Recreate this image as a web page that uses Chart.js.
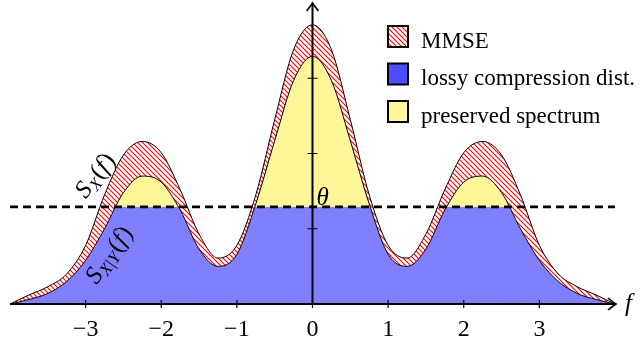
<!DOCTYPE html>
<html>
<head>
<meta charset="utf-8">
<script src="https://cdn.jsdelivr.net/npm/chart.js@4.4.1/dist/chart.umd.min.js"></script>
<style>
  html, body { margin: 0; padding: 0; background: #fff; }
  canvas { display: block; }
</style>
</head>
<body>
<canvas id="spec" width="642" height="343"></canvas>
<script>
// frequency grid and the two spectral densities sampled on it
var freqs = [-4, -3.75, -3.5, -3.25, -3, -2.75, -2.5, -2.25, -2, -1.75, -1.5, -1.25, -1, -0.75, -0.5, -0.25,
             0, 0.25, 0.5, 0.75, 1, 1.25, 1.5, 1.75, 2, 2.25, 2.5, 2.75, 3, 3.25, 3.5, 3.75, 4];
var sxVals = [0, 0.12, 0.23, 0.40, 0.78, 1.45, 1.98, 2.16, 2.01, 1.52, 0.93, 0.61, 0.78, 1.45, 2.45, 3.38,
              3.71, 3.38, 2.45, 1.45, 0.78, 0.61, 0.93, 1.52, 2.01, 2.16, 1.98, 1.45, 0.78, 0.40, 0.23, 0.12, 0];
var sxyVals = [0, 0.06, 0.14, 0.30, 0.58, 1.00, 1.48, 1.70, 1.62, 1.25, 0.73, 0.50, 0.66, 1.33, 2.17, 2.97,
               3.29, 2.97, 2.17, 1.33, 0.66, 0.50, 0.73, 1.25, 1.62, 1.70, 1.48, 1.00, 0.58, 0.30, 0.14, 0.06, 0];
var theta = 1.29;
var xTicks = [-3, -2, -1, 0, 1, 2, 3];
var yTicks = [1, 2, 3];
var legendNames = ['MMSE', 'lossy compression dist.', 'preserved spectrum'];

var BLUE = 'rgb(128,128,255)';
var BLUE_KEY = 'rgb(77,77,255)';
var YELLOW = 'rgb(255,246,153)';
var SERIF = '"Liberation Serif", "Times New Roman", serif';

function pts(vals) {
  return freqs.map(function (f, i) { return { x: f, y: vals[i] }; });
}

// red north-west hatching on white
function makeHatch() {
  var s = 5;
  var c = document.createElement('canvas');
  c.width = s; c.height = s;
  var g = c.getContext('2d');
  g.fillStyle = '#fff';
  g.fillRect(0, 0, s, s);
  g.strokeStyle = '#ff0000';
  g.lineWidth = 1.1;
  g.beginPath();
  g.moveTo(-1, -1); g.lineTo(s + 1, s + 1);
  g.moveTo(s - 1, -1); g.lineTo(s + 1, 1);
  g.moveTo(-1, s - 1); g.lineTo(1, s + 1);
  g.stroke();
  return g.createPattern(c, 'repeat');
}
var hatch = makeHatch();

function arrowHead(ctx, x, y, ang) {
  ctx.save();
  ctx.translate(x, y);
  ctx.rotate(ang);
  ctx.beginPath();
  ctx.moveTo(-8, -6);
  ctx.quadraticCurveTo(-2.5, -1.5, 0, 0);
  ctx.quadraticCurveTo(-2.5, 1.5, -8, 6);
  ctx.stroke();
  ctx.restore();
}

// parts: [text, font, dy, extra advance]
function drawMath(ctx, parts, cx, cy, ang) {
  ctx.save();
  ctx.translate(cx, cy);
  ctx.rotate(ang);
  ctx.textBaseline = 'alphabetic';
  ctx.textAlign = 'left';
  var w = 0;
  parts.forEach(function (p) { ctx.font = p[1]; w += ctx.measureText(p[0]).width + (p[3] || 0); });
  var x = -w / 2;
  parts.forEach(function (p) {
    ctx.font = p[1];
    ctx.fillText(p[0], x, p[2] || 0);
    x += ctx.measureText(p[0]).width + (p[3] || 0);
  });
  ctx.restore();
}

var IT = 'italic 25px ' + SERIF;
var IT_SUB = 'italic 17px ' + SERIF;
var UP = '25px ' + SERIF;
var UP_SUB = '17px ' + SERIF;

var decorations = {
  id: 'decorations',
  afterDatasetsDraw: function (chart) {
    var ctx = chart.ctx;
    var xs = chart.scales.x, ys = chart.scales.y;
    var x0 = xs.getPixelForValue(0), y0 = ys.getPixelForValue(0);
    var xl = xs.getPixelForValue(freqs[0]);
    var xr = xs.right + 1;
    var yt = chart.chartArea.top;

    ctx.save();
    ctx.strokeStyle = '#000';
    ctx.fillStyle = '#000';
    ctx.lineCap = 'butt';

    // axes
    ctx.lineWidth = 2;
    ctx.beginPath();
    ctx.moveTo(xl, y0); ctx.lineTo(xr - 1, y0);
    ctx.moveTo(x0, y0); ctx.lineTo(x0, yt + 1);
    ctx.stroke();
    ctx.lineWidth = 1.6;
    arrowHead(ctx, xr, y0, 0);
    arrowHead(ctx, x0, yt, -Math.PI / 2);

    // tick marks across the axes
    ctx.lineWidth = 1.2;
    ctx.beginPath();
    xTicks.forEach(function (v) {
      var px = xs.getPixelForValue(v);
      ctx.moveTo(px, y0 - 4); ctx.lineTo(px, y0 + 4);
    });
    yTicks.forEach(function (v) {
      var py = ys.getPixelForValue(v);
      ctx.moveTo(x0 - 5, py); ctx.lineTo(x0 + 5, py);
    });
    ctx.stroke();

    // axis and threshold labels
    ctx.textBaseline = 'alphabetic';
    ctx.textAlign = 'left';
    ctx.font = IT;
    ctx.fillText('f', xr + 9, y0 + 7);
    ctx.fillText('\u03b8', x0 + 4, ys.getPixelForValue(theta) - 2);

    drawMath(ctx, [['S', IT, 0, 0.5], ['X', IT_SUB, 4, 1], ['(', UP], ['f', IT, 0, 1.5], [')', UP]],
             101, 180, -52 * Math.PI / 180);
    drawMath(ctx, [['S', IT, 0, 0.5], ['X', IT_SUB, 4, 0.5], ['|', UP_SUB, 4, 0.5], ['Y', IT_SUB, 4, 1.5],
                   ['(', UP], ['f', IT, 0, 1.5], [')', UP]],
             115, 259, -55 * Math.PI / 180);

    // legend
    var fills = [hatch, BLUE_KEY, YELLOW];
    ctx.font = '23px ' + SERIF;
    legendNames.forEach(function (name, i) {
      var top = 26 + i * 37.5;
      ctx.fillStyle = fills[i];
      ctx.fillRect(388, top, 20, 21);
      ctx.lineWidth = 2;
      ctx.strokeRect(388, top, 20, 21);
      ctx.fillStyle = '#000';
      ctx.fillText(name, 421, top + 21.5);
    });
    ctx.restore();
  }
};

var smooth = 'monotone';
new Chart(document.getElementById('spec'), {
  type: 'line',
  data: {
    datasets: [
      { label: 'theta', data: pts(freqs.map(function () { return theta; })),
        borderColor: '#000', borderWidth: 2.8, borderDash: [8, 5], pointRadius: 0, fill: false },
      { label: 'MMSE', data: pts(sxVals), cubicInterpolationMode: smooth,
        borderColor: '#000', borderWidth: 1, pointRadius: 0, fill: '+1', backgroundColor: hatch },
      { label: 'S_X|Y', data: pts(sxyVals), cubicInterpolationMode: smooth,
        borderColor: '#000', borderWidth: 1, pointRadius: 0, fill: false },
      { label: 'preserved spectrum', data: pts(sxyVals), cubicInterpolationMode: smooth,
        borderColor: 'rgba(0,0,0,0)', borderWidth: 0, pointRadius: 0,
        fill: { target: { value: theta }, above: YELLOW, below: 'rgba(0,0,0,0)' } },
      { label: 'lossy compression dist.', data: pts(sxyVals), cubicInterpolationMode: smooth,
        borderColor: 'rgba(0,0,0,0)', borderWidth: 0, pointRadius: 0,
        fill: 'origin', backgroundColor: BLUE }
    ]
  },
  options: {
    animation: false,
    responsive: false,
    devicePixelRatio: 1,
    events: [],
    layout: { padding: { left: 10, right: 27, top: 3, bottom: 0 } },
    plugins: {
      legend: { display: false },
      tooltip: { enabled: false },
      filler: { drawTime: 'beforeDatasetsDraw' }
    },
    scales: {
      x: {
        type: 'linear', min: -4, max: 4,
        afterBuildTicks: function (s) { s.ticks = xTicks.map(function (v) { return { value: v }; }); },
        afterFit: function (s) { s.height = 39; },
        grid: { display: false, drawTicks: false },
        border: { display: false },
        ticks: {
          color: '#000', padding: 11, maxRotation: 0, autoSkip: false,
          font: { family: SERIF, size: 24 },
          callback: function (v) { return v < 0 ? '\u2212' + (-v) : String(v); }
        }
      },
      y: { type: 'linear', min: 0, max: 4, display: false }
    }
  },
  plugins: [decorations]
});
</script>
</body>
</html>
